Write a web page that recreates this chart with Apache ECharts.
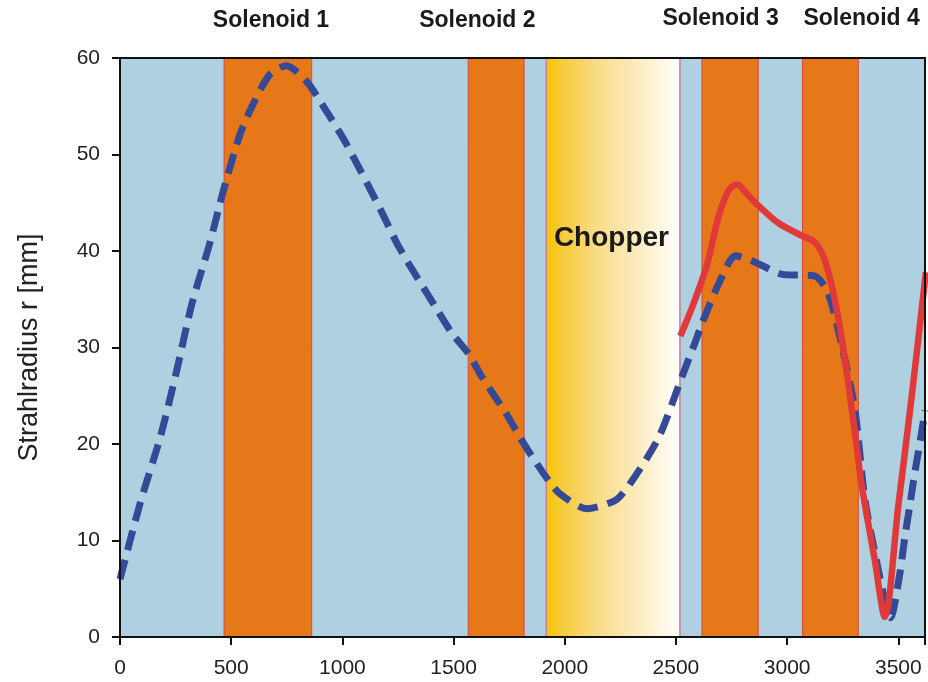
<!DOCTYPE html>
<html>
<head>
<meta charset="utf-8">
<script src="https://cdn.jsdelivr.net/npm/echarts@6/dist/echarts.min.js"></script>
<style>html,body{margin:0;padding:0;background:#fff;}#c{width:928px;height:682px;}</style>
</head>
<body>
<div id="c"></div>
<script>
// ---- data ----
const blueX = [0, 91, 181, 255, 323, 400, 468, 540, 598, 674, 748, 838, 928, 1018, 1167, 1257, 1421, 1495, 1566, 1629, 1735, 1825, 1915, 1975, 2100, 2230, 2303, 2423, 2526, 2589, 2617, 2700, 2767, 2841, 2974, 3125, 3185, 3244, 3305, 3350, 3408, 3439, 3465, 3507, 3529, 3551, 3574, 3604, 3620];
const blueY = [6, 13.9, 20.7, 27.6, 34.5, 40.5, 46.5, 52.1, 55.2, 58.3, 59.2, 57.6, 54.5, 51.1, 44.5, 40.3, 34.1, 31.4, 29.4, 26.9, 23.2, 19.7, 16.6, 14.9, 13.3, 14.2, 16.2, 20.7, 26.9, 30.7, 32.5, 37, 39.5, 39.0, 37.6, 37.4, 35.6, 30.4, 23.5, 14.2, 7.2, 3.8, 2.0, 6.6, 10.3, 13.5, 17, 21.1, 23.5];
const redX = [2520, 2580, 2640, 2692, 2740, 2775, 2820, 2871, 2961, 3064, 3125, 3170, 3215, 3260, 3311, 3334, 3394, 3439, 3500, 3558, 3624];
const redY = [31.2, 34.6, 38.6, 43.6, 46.4, 46.9, 45.9, 44.7, 42.9, 41.6, 40.9, 39.0, 34.9, 28.7, 20.1, 15.9, 8, 2.1, 13.6, 24.5, 37.8];
const solenoidNames = ['Solenoid 1', 'Solenoid 2', 'Solenoid 3', 'Solenoid 4'];
const solenoidStart = [468, 1566, 2617, 3069];
const solenoidEnd = [862, 1817, 2870, 3320];
const chopperStart = 1917;
const chopperEnd = 2518;
const xTicks = [0, 500, 1000, 1500, 2000, 2500, 3000, 3500];
const yTicks = [0, 10, 20, 30, 40, 50, 60];
// label anchors (data coordinates)
const solenoidLabelX = [679, 1607, 2701, 3335];
const solenoidLabelY = [63.9, 63.9, 64.1, 64.1];
const chopperLabel = {text: 'Chopper', x: 2210, y: 41.3};

const chart = echarts.init(document.getElementById('c'));
const zip = (a, b) => a.map((v, i) => [v, b[i]]);
const areas = solenoidStart.map((s, i) => [{xAxis: s, itemStyle: {color: '#E67819', borderColor: '#D9473C', borderWidth: 1}}, {xAxis: solenoidEnd[i]}]);
areas.push([{xAxis: chopperStart, itemStyle: {
  color: new echarts.graphic.LinearGradient(0, 0, 1, 0, [
    {offset: 0, color: '#F6C300'}, {offset: 0.12, color: '#F7CB3A'}, {offset: 0.4, color: '#F9DD8C'},
    {offset: 0.75, color: '#FCF0CC'}, {offset: 1, color: '#FFFFFF'}]),
  borderColor: '#C87A8A', borderWidth: 1}}, {xAxis: chopperEnd}]);

const axisCommon = {
  axisLine: {show: true, lineStyle: {color: '#111', width: 2}},
  axisTick: {show: true, length: 8, lineStyle: {color: '#111', width: 2}},
  splitLine: {show: false},
  z: 10
};
chart.setOption({
  animation: false,
  grid: {left: 120, right: 1, top: 58, bottom: 45, show: true, backgroundColor: '#AFD0E0', borderWidth: 0},
  xAxis: [
    Object.assign({type: 'value', min: 0, max: 3620, interval: 500,
      axisLabel: {color: '#222', fontSize: 21, fontFamily: 'Liberation Sans', margin: 21,
        formatter: v => xTicks.includes(v) ? String(v) : ''}}, axisCommon),
    {type: 'value', position: 'top', min: 0, max: 3620, z: 10,
      axisLine: {show: true, onZero: false, lineStyle: {color: '#111', width: 2}}, axisTick: {show: false}, axisLabel: {show: false}, splitLine: {show: false}}
  ],
  yAxis: [
    Object.assign({type: 'value', min: 0, max: 60, interval: 10,
      name: 'Strahlradius r [mm]', nameLocation: 'middle', nameGap: 77,
      nameTextStyle: {color: '#222', fontSize: 27, fontFamily: 'Liberation Sans'},
      axisLabel: {color: '#222', fontSize: 21, fontFamily: 'Liberation Sans', margin: 20,
        formatter: v => yTicks.includes(v) ? String(v) : ''}}, axisCommon),
    {type: 'value', position: 'right', min: 0, max: 60, z: 10,
      axisLine: {show: true, onZero: false, lineStyle: {color: '#111', width: 2}}, axisTick: {show: false}, axisLabel: {show: false}, splitLine: {show: false}}
  ],
  series: [
    {type: 'line', z: 1, data: [[0, 0]], symbol: 'none', lineStyle: {opacity: 0}, silent: true,
      markArea: {silent: true, label: {show: false}, data: areas}},
    {type: 'line', z: 3, data: zip(blueX, blueY), smooth: 0.25, symbol: 'none',
      lineStyle: {color: '#354A96', width: 7, type: [20, 10], cap: 'butt'}},
    {type: 'line', z: 4, data: zip(redX, redY), smooth: 0.3, symbol: 'none',
      lineStyle: {color: '#E0393A', width: 6.5}}
  ]
});

const g = [];
solenoidNames.forEach((n, i) => {
  const p = chart.convertToPixel({xAxisIndex: 0, yAxisIndex: 0}, [solenoidLabelX[i], solenoidLabelY[i]]);
  g.push({type: 'text', x: p[0], y: p[1], style: {text: n, fill: '#1a1a1a', font: 'bold 23px "Liberation Sans"', textAlign: 'center', textVerticalAlign: 'middle'}});
});
const cp = chart.convertToPixel({xAxisIndex: 0, yAxisIndex: 0}, [chopperLabel.x, chopperLabel.y]);
g.push({type: 'text', x: cp[0], y: cp[1], z: 20, style: {text: chopperLabel.text, fill: '#1a1a1a', font: 'bold 28px "Liberation Sans"', textAlign: 'center', textVerticalAlign: 'middle'}});
chart.setOption({graphic: g});
</script>
</body>
</html>
